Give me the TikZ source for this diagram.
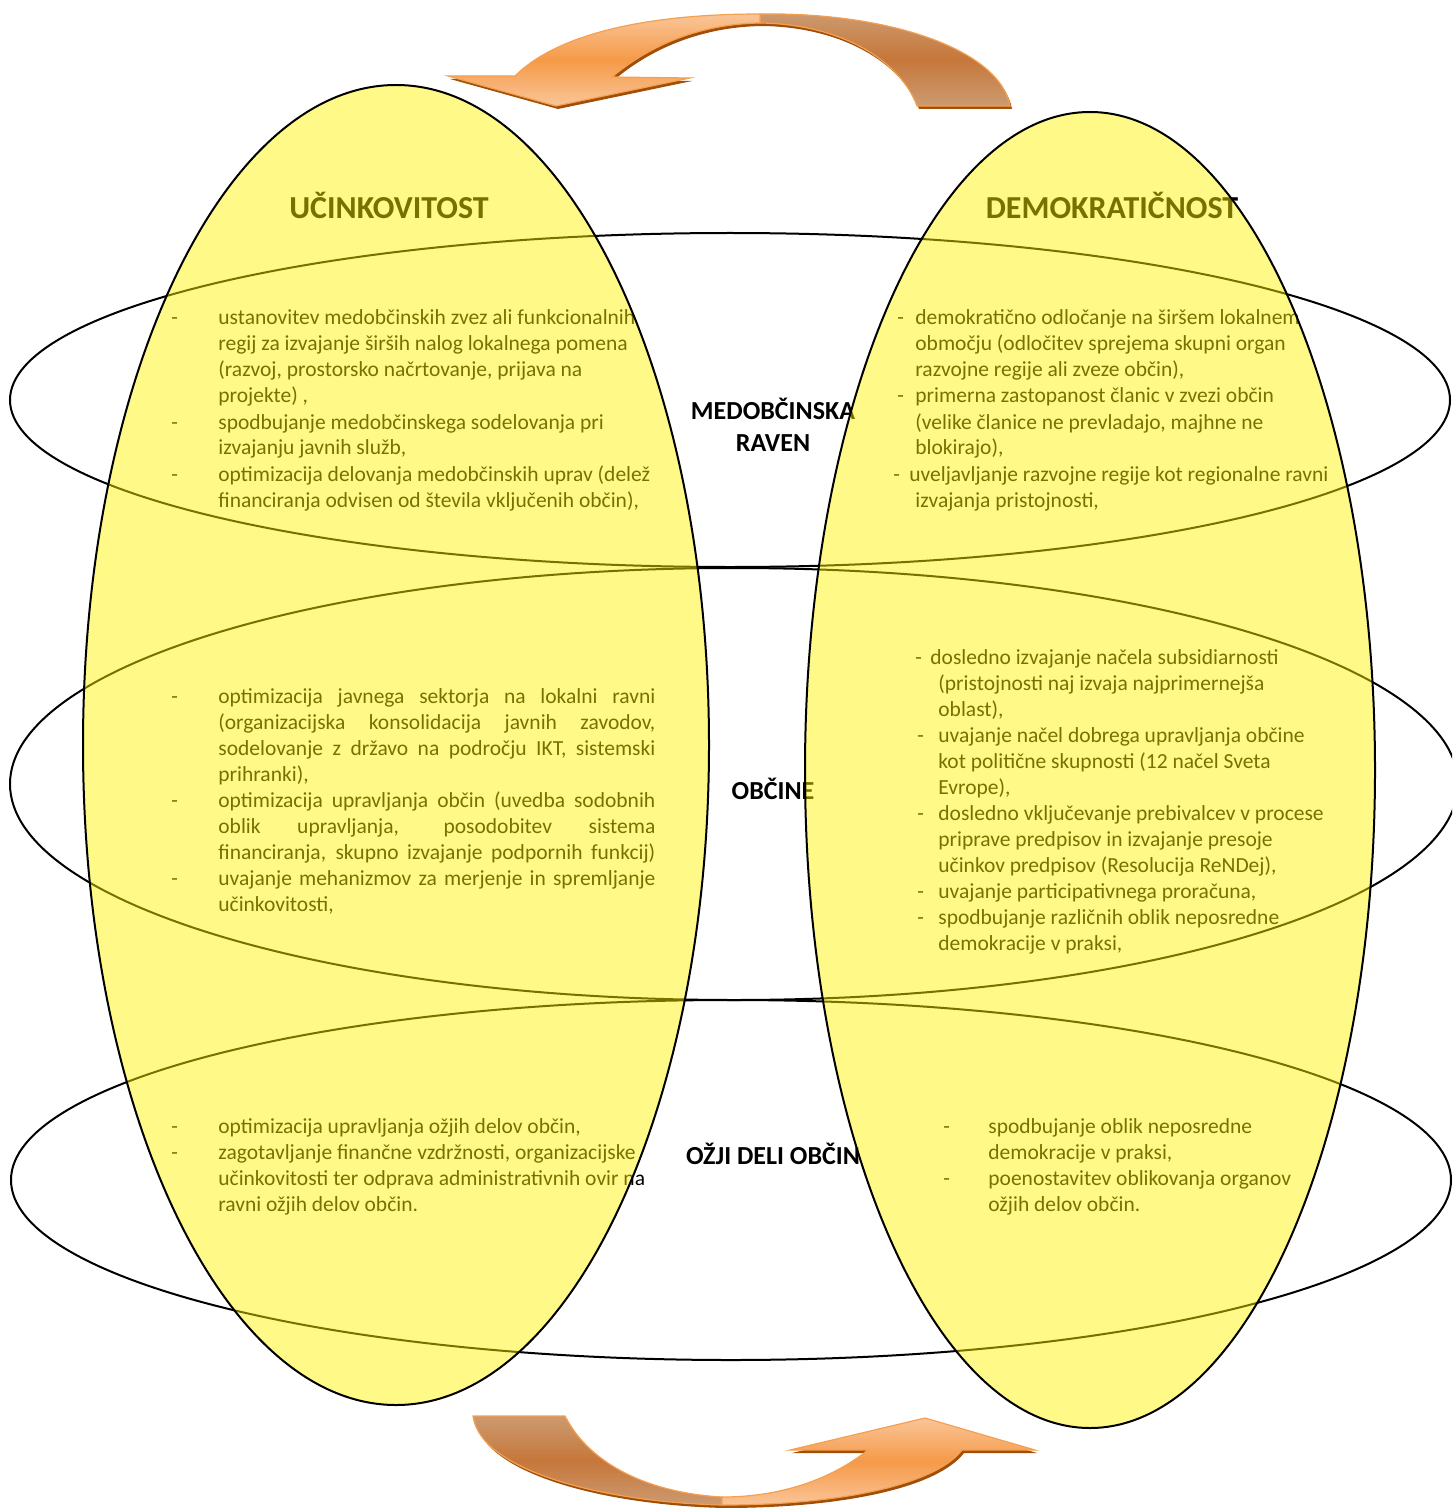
\documentclass[tikz,border=0pt]{standalone}
\usepackage{fontspec}
\setmainfont{Carlito}
\definecolor{afrontl}{HTML}{FAC598}
\definecolor{afrontm}{HTML}{F59A48}
\definecolor{abackl}{HTML}{CC9A70}
\definecolor{abackm}{HTML}{C6773A}
\definecolor{ashadow}{HTML}{A04E08}
\definecolor{aedge}{HTML}{F5A050}
\newcommand\dsh[2]{\makebox[#1][l]{-}#2}
\newcommand\jl[1]{\makebox[218.5pt][s]{#1}}
\begin{document}
\begin{tikzpicture}[x=0.5pt,y=-0.5pt,
  hell/.style={line width=1pt,draw=black},
  yel/.style={fill=yellow,fill opacity=0.47,draw=none},
  vout/.style={line width=1pt,draw=black},
  txt/.style={font=\fontsize{10.75}{13}\selectfont,anchor=base west,inner sep=0pt},
  lbl/.style={font=\fontsize{13}{16}\selectfont\bfseries,anchor=base,inner sep=0pt},
  ttl/.style={font=\fontsize{16}{19}\selectfont\bfseries,anchor=base,inner sep=0pt},
  front/.style={top color=afrontl,bottom color=afrontl,middle color=afrontm,draw=aedge,line width=0.6pt},
  back/.style={top color=abackl,bottom color=abackl,middle color=abackm,draw=aedge,line width=0.6pt},
  shad/.style={fill=ashadow,draw=none}]
\clip (0,0) rectangle (1452,1508);

% horizontal level ellipses
\draw[hell] (730,400) ellipse [x radius=720, y radius=167];
\draw[hell] (734,784) ellipse [x radius=724, y radius=216];
\draw[hell] (731,1180) ellipse [x radius=720, y radius=180];

% level labels
\node[lbl] (medobc) at (773,419) {\begin{tabular}[t]{@{}c@{}}MEDOBČINSKA\\RAVEN\end{tabular}};
\node[lbl] (obcine) at (773,799) {OBČINE};
\node[lbl] (ozji) at (773,1164) {OŽJI DELI OBČIN};

% titles
\node[ttl] (ucink) at (389,219) {UČINKOVITOST};
\node[ttl] (demok) at (1112,219) {DEMOKRATIČNOST};

% left column texts
\node[txt] (lt) at (171,325) {\begin{tabular}[t]{@{}l@{}}
\dsh{23.5pt}{ustanovitev medobčinskih zvez ali funkcionalnih}\\
\hspace*{23.5pt}regij za izvajanje širših nalog lokalnega pomena\\
\hspace*{23.5pt}(razvoj, prostorsko načrtovanje, prijava na\\
\hspace*{23.5pt}projekte) ,\\
\dsh{23.5pt}{spodbujanje medobčinskega sodelovanja pri}\\
\hspace*{23.5pt}izvajanju javnih služb,\\
\dsh{23.5pt}{optimizacija delovanja medobčinskih uprav (delež}\\
\hspace*{23.5pt}financiranja odvisen od števila vključenih občin),
\end{tabular}};

\node[txt] (lm) at (171,703) {\begin{tabular}[t]{@{}l@{}}
\dsh{23.5pt}{\jl{optimizacija javnega sektorja na lokalni ravni}}\\
\hspace*{23.5pt}\jl{(organizacijska konsolidacija javnih zavodov,}\\
\hspace*{23.5pt}\jl{sodelovanje z državo na področju IKT, sistemski}\\
\hspace*{23.5pt}prihranki),\\
\dsh{23.5pt}{\jl{optimizacija upravljanja občin (uvedba sodobnih}}\\
\hspace*{23.5pt}\jl{oblik upravljanja, posodobitev sistema}\\
\hspace*{23.5pt}\jl{financiranja, skupno izvajanje podpornih funkcij)}\\
\dsh{23.5pt}{\jl{uvajanje mehanizmov za merjenje in spremljanje}}\\
\hspace*{23.5pt}učinkovitosti,
\end{tabular}};

\node[txt] (lb) at (171,1133) {\begin{tabular}[t]{@{}l@{}}
\dsh{23.5pt}{optimizacija upravljanja ožjih delov občin,}\\
\dsh{23.5pt}{zagotavljanje finančne vzdržnosti, organizacijske}\\
\hspace*{23.5pt}učinkovitosti ter odprava administrativnih ovir na\\
\hspace*{23.5pt}ravni ožjih delov občin.
\end{tabular}};

% right column texts
\node[txt] (rt) at (893,325) {\begin{tabular}[t]{@{}l@{}}
\hspace*{2pt}\dsh{9pt}{demokratično odločanje na širšem lokalnem}\\
\hspace*{11pt}območju (odločitev sprejema skupni organ\\
\hspace*{11pt}razvojne regije ali zveze občin),\\
\hspace*{2pt}\dsh{9pt}{primerna zastopanost članic v zvezi občin}\\
\hspace*{11pt}(velike članice ne prevladajo, majhne ne\\
\hspace*{11pt}blokirajo),\\
\dsh{8pt}{uveljavljanje razvojne regije kot regionalne ravni}\\
\hspace*{11pt}izvajanja pristojnosti,
\end{tabular}};

\node[txt] (rm) at (915,664) {\begin{tabular}[t]{@{}l@{}}
\dsh{7.5pt}{dosledno izvajanje načela subsidiarnosti}\\
\hspace*{11.5pt}(pristojnosti naj izvaja najprimernejša\\
\hspace*{11.5pt}oblast),\\
\hspace*{1pt}\dsh{10.5pt}{uvajanje načel dobrega upravljanja občine}\\
\hspace*{11.5pt}kot politične skupnosti (12 načel Sveta\\
\hspace*{11.5pt}Evrope),\\
\hspace*{1pt}\dsh{10.5pt}{dosledno vključevanje prebivalcev v procese}\\
\hspace*{11.5pt}priprave predpisov in izvajanje presoje\\
\hspace*{11.5pt}učinkov predpisov (Resolucija ReNDej),\\
\hspace*{1pt}\dsh{10.5pt}{uvajanje participativnega proračuna,}\\
\hspace*{1pt}\dsh{10.5pt}{spodbujanje različnih oblik neposredne}\\
\hspace*{11.5pt}demokracije v praksi,
\end{tabular}};

\node[txt] (rb) at (943,1133) {\begin{tabular}[t]{@{}l@{}}
\dsh{22.5pt}{spodbujanje oblik neposredne}\\
\hspace*{22.5pt}demokracije v praksi,\\
\dsh{22.5pt}{poenostavitev oblikovanja organov}\\
\hspace*{22.5pt}ožjih delov občin.
\end{tabular}};

% translucent vertical ellipses
\path[yel] (396,745) ellipse [x radius=313, y radius=660];
\path[yel] (1090,770) ellipse [x radius=285, y radius=658];
\draw[vout] (396,745) ellipse [x radius=313, y radius=660];
\draw[vout] (1090,770) ellipse [x radius=285, y radius=658];

% top curved arrow
\begin{scope}[shift={(2,3)}]
\path[shad] (760,14) .. controls (890,12) and (1000,50) .. (1010,106) -- (917,106) .. controls (900,60) and (840,24) .. (760,23) -- cycle;
\path[shad] (760,14) .. controls (640,14) and (555,36) .. (515,76) -- (448,76) -- (556,106) -- (690,78) -- (612,77) .. controls (650,45) and (700,24) .. (760,23) -- cycle;
\end{scope}
\shadedraw[back] (760,14) .. controls (890,12) and (1000,50) .. (1010,106) -- (917,106) .. controls (900,60) and (840,24) .. (760,23) -- cycle;
\shadedraw[front] (760,14) .. controls (640,14) and (555,36) .. (515,76) -- (448,76) -- (556,106) -- (690,78) -- (612,77) .. controls (650,45) and (700,24) .. (760,23) -- cycle;

% bottom curved arrow
\begin{scope}[shift={(2,3)}]
\path[shad] (473,1416) -- (565,1416) .. controls (590,1465) and (650,1493) .. (722,1497) -- (722,1505) .. controls (600,1502) and (480,1470) .. (473,1416) -- cycle;
\path[shad] (722,1505) .. controls (840,1505) and (935,1485) .. (962,1450) -- (1035,1450) -- (925,1418) -- (790,1450) -- (868,1450) .. controls (830,1480) and (780,1497) .. (722,1497) -- cycle;
\end{scope}
\shadedraw[back] (473,1416) -- (565,1416) .. controls (590,1465) and (650,1493) .. (722,1497) -- (722,1505) .. controls (600,1502) and (480,1470) .. (473,1416) -- cycle;
\shadedraw[front] (722,1505) .. controls (840,1505) and (935,1485) .. (962,1450) -- (1035,1450) -- (925,1418) -- (790,1450) -- (868,1450) .. controls (830,1480) and (780,1497) .. (722,1497) -- cycle;
\end{tikzpicture}
\end{document}
